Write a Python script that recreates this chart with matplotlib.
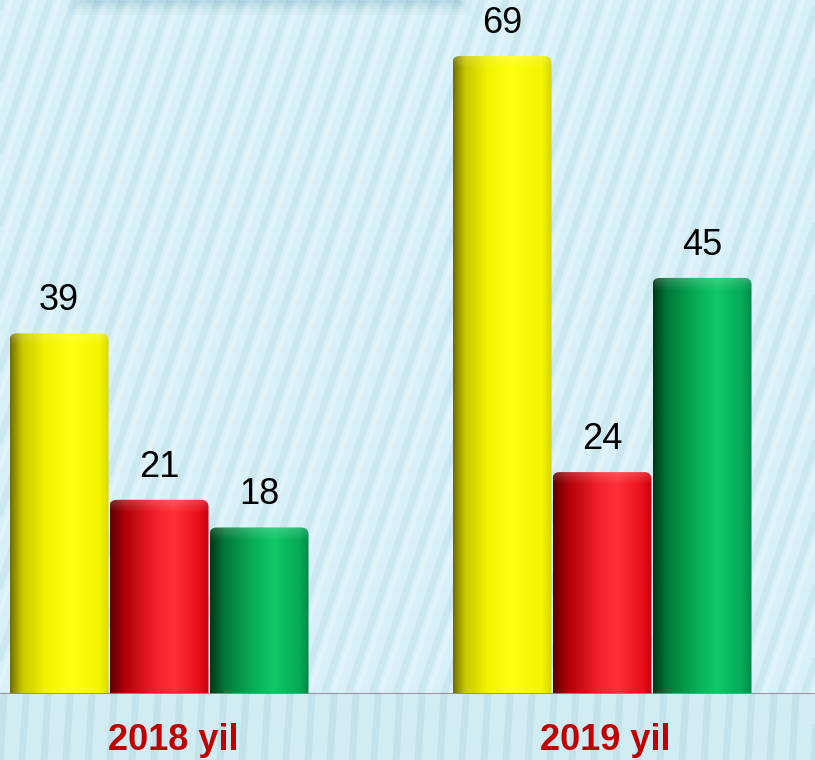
import numpy as np
import matplotlib.pyplot as plt
from matplotlib.patches import FancyBboxPatch, Rectangle

years = ['2018 yil', '2019 yil']
yellow_vals = [39, 69]
red_vals = [21, 24]
green_vals = [18, 45]

# colour stops across a bar (left -> right) to fake a cylinder
shades = {
    'yellow': [(0.0, '#6e6e00'), (0.12, '#c8c800'), (0.35, '#f2f200'), (0.6, '#ffff10'), (0.9, '#f5f500'), (1.0, '#d6d600')],
    'red':    [(0.0, '#5a0000'), (0.15, '#b00008'), (0.45, '#f0202a'), (0.65, '#ff3038'), (0.9, '#e8101a'), (1.0, '#c80010')],
    'green':  [(0.0, '#003818'), (0.15, '#007a3a'), (0.45, '#08b058'), (0.65, '#10c868'), (0.9, '#04aa58'), (1.0, '#008c48')],
}


def hex2rgb(h):
    h = h.lstrip('#')
    return [int(h[i:i + 2], 16) / 255 for i in (0, 2, 4)]


def gradient(stops, n=200):
    t = np.linspace(0, 1, n)
    pos = [s[0] for s in stops]
    cols = np.array([hex2rgb(s[1]) for s in stops])
    img = np.stack([np.interp(t, pos, cols[:, k]) for k in range(3)], axis=-1)
    return img[np.newaxis, :, :]


fig = plt.figure(figsize=(8.15, 7.6), dpi=100)
fig.patch.set_facecolor('#d8f0f7')

# background stripes (diagonal above baseline, vertical-ish below)
bg = fig.add_axes([0, 0, 1, 1], zorder=0)
bg.set_xlim(0, 815)
bg.set_ylim(760, 0)
bg.axis('off')
for x0 in np.arange(-300, 900, 24):
    bg.plot([x0, x0 + 230], [694, 0], color='#bcdde8', lw=5, alpha=0.45, solid_capstyle='butt')
    bg.plot([x0 + 9, x0 + 239], [694, 0], color='#eaf8fc', lw=3, alpha=0.55, solid_capstyle='butt')
bg.add_patch(Rectangle((0, 694), 815, 66, color='#d2ecf3', zorder=2))
for x0 in np.arange(0, 815, 22):
    bg.plot([x0, x0 + 4], [760, 696], color='#b9dce6', lw=5, alpha=0.6, zorder=3)
# faint shadow of a box at the top
for i, a in enumerate([0.10, 0.08, 0.06, 0.04, 0.03]):
    bg.add_patch(Rectangle((80 - i * 3, -5), 380 + i * 6, 8 + i * 3, color='#5a9fb5', alpha=a, lw=0, zorder=2))

ax = fig.add_axes([0, 66 / 760, 1, 694 / 760], zorder=1)
ax.patch.set_alpha(0)
ax.set_xlim(-159 / 443, 656 / 443)
ax.set_ylim(0, 694 / 9.246)
ax.axis('off')

x = np.arange(len(years))
w = 99 / 443
aspect = (1 / 9.246) / (1 / 443)
series = [(yellow_vals, 'yellow', -1), (red_vals, 'red', 0), (green_vals, 'green', 1)]

for vals, name, off in series:
    bars = ax.bar(x + off * 100 / 443, vals, width=w, color='none', edgecolor='none')
    img = gradient(shades[name])
    for b, v in zip(bars, vals):
        x0, x1 = b.get_x(), b.get_x() + b.get_width()
        clip = FancyBboxPatch((x0, -3), x1 - x0, v + 3,
                              boxstyle='round,pad=0,rounding_size=0.016',
                              mutation_aspect=aspect, facecolor='none', edgecolor='none')
        ax.add_patch(clip)
        im = ax.imshow(img, extent=[x0, x1, 0, v], aspect='auto', zorder=3, interpolation='bilinear')
        im.set_clip_path(clip)
        # soft highlight on the cap
        cap = np.zeros((20, 1, 4))
        cap[:, :, :3] = 1
        cap[:, 0, 3] = np.linspace(0.18, 0, 20)
        hl = ax.imshow(cap, extent=[x0, x1, v - 1.4, v], aspect='auto', zorder=4, interpolation='bilinear')
        hl.set_clip_path(clip)
        ax.annotate(str(v), (b.get_x() + b.get_width() / 2, v), xytext=(0, 11),
                    textcoords='offset points', ha='center', va='bottom',
                    fontsize=26, family='Liberation Sans', color='black', zorder=5)

ax.axhline(0, color='#8c8c8c', lw=2, zorder=5)

label_dx = [0.032, 0.008]
for xi, lab, dx in zip(x, years, label_dx):
    ax.text(xi + dx, -5.0, lab, ha='center', va='center', fontsize=26,
            fontweight='bold', family='Liberation Sans', color='#c00000', clip_on=False)

fig.savefig('out.png', dpi=100)
